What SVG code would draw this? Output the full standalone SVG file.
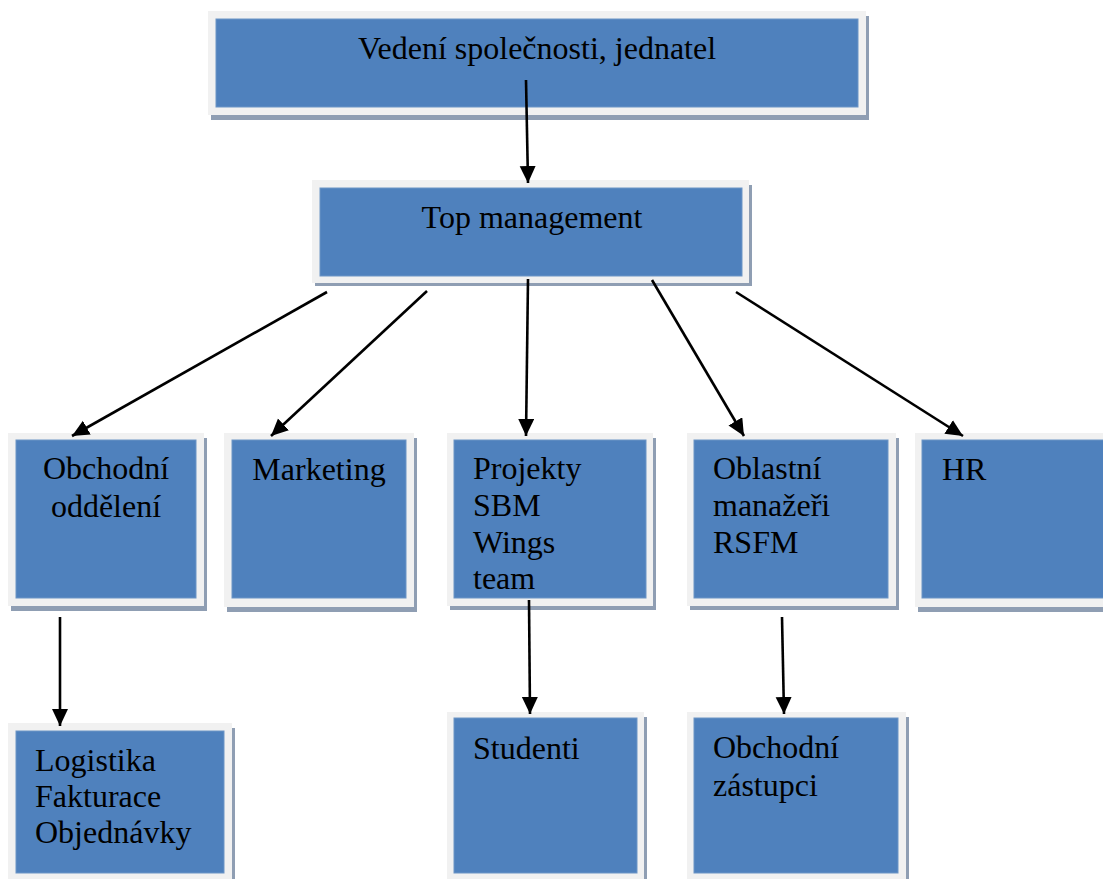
<svg xmlns="http://www.w3.org/2000/svg" width="1103" height="879" viewBox="0 0 1103 879">
<style>
.sh{fill:#8f9eb3}
.fr{fill:#f1f1f1}
.bx{fill:#4f81bd;stroke:#6d95c6;stroke-width:1}
text{font-family:"Liberation Serif","Times New Roman",serif;font-size:32px;fill:#000}
.c{text-anchor:middle}
.ln{stroke:#000;stroke-width:2.6;fill:none;marker-end:url(#ah)}
</style>
<defs>
<marker id="ah" markerUnits="userSpaceOnUse" markerWidth="19" markerHeight="17" refX="17" refY="8" orient="auto">
<path d="M0,0 L17,8 L0,16 z" fill="#000"/>
</marker>
</defs>
<rect width="1103" height="879" fill="#fff"/>

<g id="vedeni">
<rect class="sh" x="211" y="16" width="658" height="104"/>
<rect class="fr" x="208" y="11" width="658" height="104"/>
<rect class="bx" x="216" y="19" width="642" height="88"/>
<text class="c" x="537" y="59">Vedení společnosti, jednatel</text>
</g>

<g id="top">
<rect class="sh" x="315" y="185" width="437" height="101"/>
<rect class="fr" x="312" y="180" width="437" height="103"/>
<rect class="bx" x="320" y="188" width="422" height="88"/>
<text class="c" x="532" y="228">Top management</text>
</g>

<g id="obchodni">
<rect class="sh" x="11" y="438" width="196" height="173"/>
<rect class="fr" x="8" y="433" width="196" height="173"/>
<rect class="bx" x="16" y="440" width="180" height="158"/>
<text class="c" x="106" y="479">Obchodní</text>
<text class="c" x="106" y="517">oddělení</text>
</g>

<g id="marketing">
<rect class="sh" x="227" y="438" width="190" height="174"/>
<rect class="fr" x="224" y="433" width="190" height="174"/>
<rect class="bx" x="232" y="440" width="174" height="158"/>
<text class="c" x="319" y="480">Marketing</text>
</g>

<g id="projekty">
<rect class="sh" x="450" y="438" width="206" height="172"/>
<rect class="fr" x="447" y="433" width="206" height="173"/>
<rect class="bx" x="454" y="440" width="192" height="158"/>
<text x="473" y="479">Projekty</text>
<text x="473" y="516">SBM</text>
<text x="473" y="553">Wings</text>
<text x="473" y="589">team</text>
</g>

<g id="oblastni">
<rect class="sh" x="690" y="438" width="209" height="172"/>
<rect class="fr" x="687" y="433" width="209" height="173"/>
<rect class="bx" x="694" y="440" width="194" height="158"/>
<text x="713" y="479">Oblastní</text>
<text x="713" y="516">manažeři</text>
<text x="713" y="553">RSFM</text>
</g>

<g id="hr">
<rect class="sh" x="918" y="438" width="200" height="174"/>
<rect class="fr" x="915" y="433" width="200" height="174"/>
<rect class="bx" x="922" y="440" width="200" height="158"/>
<text x="942" y="480">HR</text>
</g>

<g id="logistika">
<rect class="sh" x="11" y="728" width="224" height="170"/>
<rect class="fr" x="8" y="723" width="224" height="170"/>
<rect class="bx" x="16" y="731" width="208" height="142"/>
<text x="35" y="771">Logistika</text>
<text x="35" y="807">Fakturace</text>
<text x="35" y="843">Objednávky</text>
</g>

<g id="studenti">
<rect class="sh" x="450" y="717" width="197" height="170"/>
<rect class="fr" x="447" y="712" width="197" height="170"/>
<rect class="bx" x="454" y="718" width="183" height="155"/>
<text x="473" y="759">Studenti</text>
</g>

<g id="zastupci">
<rect class="sh" x="690" y="717" width="219" height="170"/>
<rect class="fr" x="687" y="712" width="219" height="170"/>
<rect class="bx" x="694" y="718" width="204" height="155"/>
<text x="713" y="758">Obchodní</text>
<text x="713" y="796">zástupci</text>
</g>

<g id="connectors">
<line class="ln" x1="526" y1="80" x2="528" y2="183"/>
<line class="ln" x1="327" y1="292" x2="72" y2="436"/>
<line class="ln" x1="427" y1="291" x2="271" y2="436"/>
<line class="ln" x1="528" y1="279" x2="526" y2="436"/>
<line class="ln" x1="652" y1="280" x2="744" y2="436"/>
<line class="ln" x1="736" y1="292" x2="963" y2="436"/>
<line class="ln" x1="60" y1="617" x2="60" y2="726"/>
<line class="ln" x1="529" y1="600" x2="530" y2="714"/>
<line class="ln" x1="782" y1="617" x2="784" y2="714"/>
</g>
</svg>
